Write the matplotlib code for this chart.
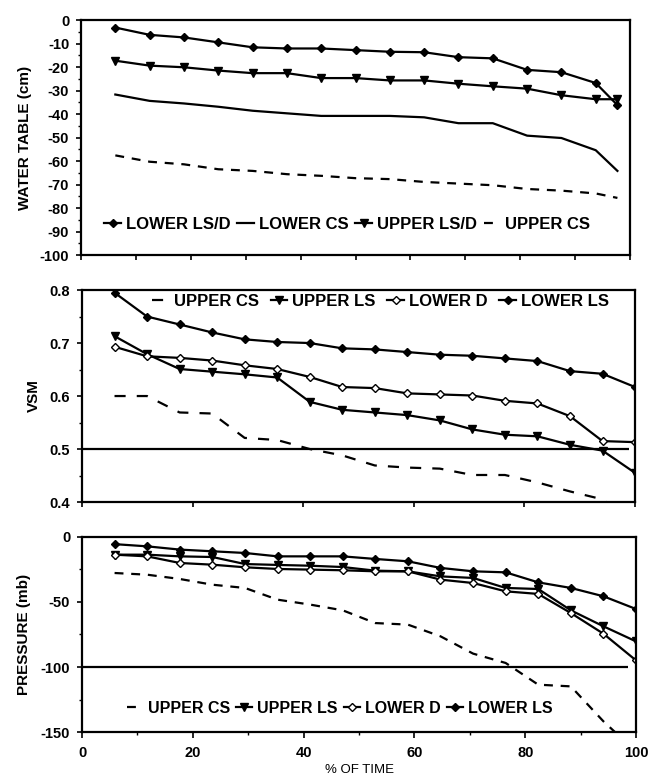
import matplotlib
matplotlib.use('Agg')
import matplotlib.pyplot as plt
from matplotlib.ticker import MultipleLocator

plt.rcParams['font.family'] = ['Liberation Sans', 'DejaVu Sans']
plt.rcParams['font.weight'] = 'bold'
plt.rcParams['axes.unicode_minus'] = False

# ---- data: water table (cm) ----
wt_x = [6.25, 12.5, 18.75, 25, 31.25, 37.5, 43.75, 50, 56.25, 62.5,
        68.75, 75, 81.25, 87.5, 93.75, 97.7]
wt_lower_lsd = [-3.2, -6.3, -7.4, -9.5, -11.6, -12.1, -12.1, -12.8, -13.5, -13.7,
                -15.8, -16.3, -21.2, -22.2, -26.8, -36.2]
wt_lower_cs = [-31.7, -34.4, -35.5, -36.9, -38.6, -39.7, -40.8, -40.8, -40.8, -41.4,
               -43.9, -43.9, -49.2, -50.2, -55.4, -64.2]
wt_upper_lsd = [-17.3, -19.4, -20.1, -21.5, -22.6, -22.6, -24.7, -24.7, -25.7, -25.7,
                -27.1, -28.2, -29.2, -32.0, -33.7, -33.7]
wt_upper_cs = [-57.6, -60.3, -61.4, -63.5, -64.2, -65.6, -66.3, -67.3, -67.7, -68.9,
               -69.6, -70.3, -71.9, -72.6, -73.8, -75.7]

# ---- data: VSM and pressure share the same time axis ----
pct_time = [5.88, 11.76, 17.65, 23.53, 29.41, 35.29, 41.18, 47.06, 52.94, 58.82,
            64.71, 70.59, 76.47, 82.35, 88.24, 94.12, 100]

vsm_upper_cs = [0.600, 0.600, 0.569, 0.567, 0.521, 0.517, 0.500, 0.488, 0.469, 0.465,
                0.463, 0.451, 0.451, 0.437, 0.420, 0.405, 0.360]
vsm_upper_ls = [0.713, 0.679, 0.651, 0.646, 0.641, 0.635, 0.589, 0.574, 0.569, 0.564,
                0.554, 0.537, 0.527, 0.524, 0.508, 0.497, 0.455]
vsm_lower_d = [0.693, 0.675, 0.672, 0.667, 0.658, 0.651, 0.636, 0.617, 0.615, 0.605,
               0.603, 0.601, 0.591, 0.586, 0.562, 0.515, 0.513]
vsm_lower_ls = [0.795, 0.750, 0.735, 0.720, 0.707, 0.702, 0.700, 0.690, 0.688, 0.683,
                0.678, 0.676, 0.671, 0.666, 0.647, 0.642, 0.617]

pr_upper_cs = [-27.7, -29.0, -32.3, -36.7, -39.2, -48.2, -52.0, -56.4, -66.2, -67.4,
               -76.4, -89.7, -96.9, -113.6, -114.9, -141.8, -165.0]
pr_upper_ls = [-13.6, -13.6, -14.9, -15.4, -20.8, -21.5, -22.1, -23.1, -25.9, -26.4,
               -30.3, -31.5, -39.2, -40.0, -56.4, -68.7, -80.3]
pr_lower_d = [-13.6, -14.9, -20.0, -21.3, -23.3, -24.6, -25.1, -25.6, -26.4, -26.4,
              -32.8, -35.4, -41.8, -43.8, -58.5, -74.4, -94.9]
pr_lower_ls = [-5.5, -7.2, -9.7, -11.0, -12.3, -14.9, -14.9, -14.9, -16.9, -18.7,
               -23.8, -26.4, -27.2, -34.9, -39.2, -45.6, -55.4]

LW = 1.6
DASH = (4, 3.5)


def style_axis(ax):
    for sp in ax.spines.values():
        sp.set_linewidth(1.6)
    ax.tick_params(axis='both', which='major', direction='out', length=3.5,
                   width=1.2, labelsize=10.5, pad=5)
    ax.tick_params(axis='both', which='minor', direction='out', length=2, width=1)


fig = plt.figure(figsize=(6.55, 7.77), dpi=100)

# ---------- top panel: water table ----------
ax1 = fig.add_axes([0.1237, 0.6718, 0.8382, 0.3024])
ax1.plot(wt_x, wt_lower_lsd, color='black', lw=LW, marker='D', ms=4, label='LOWER LS/D')
ax1.plot(wt_x, wt_lower_cs, color='black', lw=LW, label='LOWER CS')
ax1.plot(wt_x, wt_upper_lsd, color='black', lw=LW, marker='v', ms=6, label='UPPER LS/D')
ax1.plot(wt_x, wt_upper_cs, color='black', lw=LW, dashes=DASH, label='UPPER CS')
ax1.set_xlim(0, 100)
ax1.set_ylim(-100, 0)
ax1.xaxis.set_major_locator(MultipleLocator(10))
ax1.set_xticklabels([])
ax1.yaxis.set_major_locator(MultipleLocator(10))
ax1.yaxis.set_minor_locator(MultipleLocator(5))
ax1.set_ylabel('WATER TABLE (cm)', fontsize=11, fontweight='bold')
ax1.yaxis.set_label_coords(-0.09, 0.5)
style_axis(ax1)
ax1.legend(loc='center', bbox_to_anchor=(0.485, 0.13), ncol=4, frameon=False,
           fontsize=12, handlelength=1.0, handletextpad=0.3, columnspacing=0.4,
           borderpad=0.1)

# ---------- middle panel: VSM ----------
ax2 = fig.add_axes([0.1252, 0.3539, 0.8443, 0.2728])
ax2.plot(pct_time, vsm_upper_cs, color='black', lw=LW, dashes=(5, 5), label='UPPER CS')
ax2.plot(pct_time, vsm_upper_ls, color='black', lw=LW, marker='v', ms=6, label='UPPER LS')
ax2.plot(pct_time, vsm_lower_d, color='black', lw=LW, marker='D', ms=4,
         mfc='white', mec='black', mew=1, label='LOWER D')
ax2.plot(pct_time, vsm_lower_ls, color='black', lw=LW, marker='D', ms=4, label='LOWER LS')
ax2.hlines(0.5, 0, 99, color='black', lw=1.6)
ax2.set_xlim(0, 100)
ax2.set_ylim(0.4, 0.8)
ax2.xaxis.set_major_locator(MultipleLocator(20))
ax2.set_xticklabels([])
ax2.yaxis.set_major_locator(MultipleLocator(0.1))
ax2.yaxis.set_minor_locator(MultipleLocator(0.05))
ax2.set_ylabel('VSM', fontsize=11, fontweight='bold')
ax2.yaxis.set_label_coords(-0.074, 0.5)
style_axis(ax2)
ax2.legend(loc='center', bbox_to_anchor=(0.54, 0.945), ncol=4, frameon=False,
           fontsize=12, handlelength=1.0, handletextpad=0.3, columnspacing=0.7,
           borderpad=0.1)

# ---------- bottom panel: pressure ----------
ax3 = fig.add_axes([0.1252, 0.0579, 0.8458, 0.2510])
ax3.plot(pct_time, pr_upper_cs, color='black', lw=LW, dashes=DASH, label='UPPER CS')
ax3.plot(pct_time, pr_upper_ls, color='black', lw=LW, marker='v', ms=6, label='UPPER LS')
ax3.plot(pct_time, pr_lower_d, color='black', lw=LW, marker='D', ms=4,
         mfc='white', mec='black', mew=1, label='LOWER D')
ax3.plot(pct_time, pr_lower_ls, color='black', lw=LW, marker='D', ms=4, label='LOWER LS')
ax3.hlines(-100, 0, 98.5, color='black', lw=1.6)
ax3.set_xlim(0, 100)
ax3.set_ylim(-150, 0)
ax3.xaxis.set_major_locator(MultipleLocator(20))
ax3.xaxis.set_minor_locator(MultipleLocator(10))
ax3.yaxis.set_major_locator(MultipleLocator(50))
ax3.yaxis.set_minor_locator(MultipleLocator(25))
ax3.set_ylabel('PRESSURE (mb)', fontsize=11, fontweight='bold')
ax3.yaxis.set_label_coords(-0.092, 0.5)
ax3.set_xlabel('% OF TIME', fontsize=9.5, fontweight='normal')
ax3.xaxis.set_label_coords(0.5, -0.165)
style_axis(ax3)
ax3.tick_params(axis='x', which='major', length=4, pad=6)
ax3.legend(loc='center', bbox_to_anchor=(0.465, 0.123), ncol=4, frameon=False,
           fontsize=11.5, handlelength=1.0, handletextpad=0.3, columnspacing=0.4,
           borderpad=0.1)

fig.savefig('out.png', dpi=100)
